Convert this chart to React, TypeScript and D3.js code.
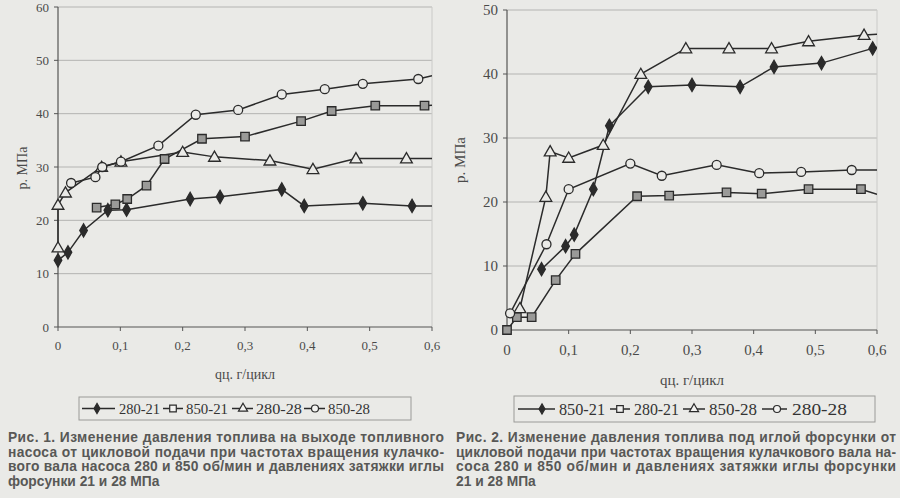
import { useEffect, useRef } from "react";
import * as d3 from "d3";

type Pt = [number, number];

// ---- data ----
const xTicks = [0, 0.1, 0.2, 0.3, 0.4, 0.5, 0.6];
const xTickLabels = ["0", "0,1", "0,2", "0,3", "0,4", "0,5", "0,6"];
const yTicks1 = [0, 10, 20, 30, 40, 50, 60];
const yTicks2 = [0, 10, 20, 30, 40, 50];

// Fig. 1: pressure at the pump outlet
const names1 = ["280-21", "850-21", "280-28", "850-28"];
const f1_280_21: Pt[] = [[0, 12.5], [0.016, 14], [0.041, 18.1], [0.08, 21.9], [0.11, 22], [0.212, 24], [0.26, 24.4], [0.359, 25.8], [0.395, 22.7], [0.489, 23.2], [0.568, 22.7]];
const f1_850_21: Pt[] = [[0.062, 22.4], [0.092, 23], [0.111, 24], [0.142, 26.5], [0.171, 31.5], [0.231, 35.3], [0.3, 35.7], [0.39, 38.6], [0.439, 40.5], [0.509, 41.5], [0.588, 41.5]];
const f1_280_28: Pt[] = [[0, 14.9], [0, 22.9], [0.012, 25.2], [0.07, 30], [0.101, 31], [0.2, 32.8], [0.251, 31.9], [0.34, 31.2], [0.409, 29.6], [0.478, 31.6], [0.559, 31.6]];
const f1_850_28: Pt[] = [[0.021, 27], [0.06, 28.1], [0.071, 30], [0.101, 31], [0.161, 34], [0.221, 39.8], [0.289, 40.7], [0.359, 43.6], [0.428, 44.6], [0.489, 45.6], [0.578, 46.5]];
// where each line leaves the plot at x = 0.6 (no marker there)
const edge1 = [22.7, 41.6, 31.6, 47.1];

// Fig. 2: pressure under the needle
const names2 = ["850-21", "280-21", "850-28", "280-28"];
const f2_850_21: Pt[] = [[0.056, 9.5], [0.095, 13.1], [0.109, 14.9], [0.14, 22], [0.166, 31.9], [0.229, 38], [0.3, 38.3], [0.378, 38], [0.433, 41.1], [0.51, 41.7], [0.593, 44]];
const f2_280_21: Pt[] = [[0, 0], [0.016, 2], [0.04, 2], [0.079, 7.8], [0.111, 11.9], [0.211, 20.9], [0.263, 21], [0.356, 21.5], [0.413, 21.3], [0.489, 22], [0.574, 22]];
const f2_850_28: Pt[] = [[0.021, 3.4], [0.063, 20.8], [0.07, 27.9], [0.1, 26.9], [0.156, 28.9], [0.217, 40], [0.29, 44], [0.36, 44], [0.429, 44], [0.489, 45.1], [0.579, 46.1]];
const f2_280_28: Pt[] = [[0.005, 2.6], [0.064, 13.4], [0.1, 22], [0.2, 26], [0.251, 24.1], [0.34, 25.8], [0.409, 24.5], [0.477, 24.7], [0.559, 25]];
const edge2 = [44.2, 21.2, 46.2, 25];

const caption1 = [
  "Рис. 1. Изменение давления топлива на выходе топливного",
  "насоса от цикловой подачи при частотах вращения кулачко-",
  "вого вала насоса 280 и 850 об/мин и давлениях затяжки иглы",
  "форсунки 21 и 28 МПа",
];
const caption2 = [
  "Рис. 2. Изменение давления топлива под иглой форсунки от",
  "цикловой подачи при частотах вращения кулачкового вала на-",
  "соса 280 и 850 об/мин и давлениях затяжки иглы форсунки",
  "21 и 28 МПа",
];

const markerKinds = ["diamond", "square", "triangle", "circle"];

const BG = "#eaeae7";
const INK = "#2b2b2b";
const SERIF = "'Liberation Serif', 'Times New Roman', 'DejaVu Serif', serif";
const SANS = "'Liberation Sans', Arial, 'DejaVu Sans', sans-serif";

function symbolFor(kind: string, big: boolean) {
  const k = big ? 1 : 0.6;
  if (kind === "diamond") return d3.symbol(d3.symbolDiamond, 50 * k)();
  if (kind === "square") return d3.symbol(d3.symbolSquare, 72 * k)();
  if (kind === "triangle") return d3.symbol(d3.symbolTriangle, 60 * k)();
  return d3.symbol(d3.symbolCircle, 64 * k)();
}

function markerFill(kind: string, legend: boolean) {
  if (kind === "diamond") return INK;
  if (kind === "square") return legend ? "#f2f2f0" : "#9a9a98";
  return legend ? "#f2f2f0" : BG;
}

interface LegendItem { x0: number; x1: number; m: number; t: number; w: number }

interface Panel {
  id: string;
  left: number; right: number; top: number; bottom: number;
  yMax: number; yTicks: number[];
  series: Pt[][]; edges: number[]; names: string[];
  tickSize: number; labelSize: number; tickDy: number;
  yLabel: [number, number]; xLabelY: number;
  legend: { x: number; y: number; w: number; h: number; items: LegendItem[]; fs: number };
  caption: string[]; capX: number; capW: number; capY: number;
}

function drawPanel(svg: d3.Selection<SVGSVGElement, unknown, null, undefined>, p: Panel) {
  const x = d3.scaleLinear().domain([0, 0.6]).range([p.left, p.right]);
  const y = d3.scaleLinear().domain([0, p.yMax]).range([p.bottom, p.top]);
  const g = svg.append("g");

  g.append("clipPath").attr("id", "clip-" + p.id)
    .append("rect").attr("x", p.left - 8).attr("y", p.top - 8)
    .attr("width", p.right - p.left + 8).attr("height", p.bottom - p.top + 16);

  // gridlines
  g.selectAll(".grid").data(p.yTicks.filter((t) => t > 0)).enter().append("line")
    .attr("x1", p.left).attr("x2", p.right)
    .attr("y1", (d) => y(d)).attr("y2", (d) => y(d))
    .attr("stroke", "#b4b4b2").attr("stroke-width", 1);
  g.append("line").attr("x1", p.right).attr("x2", p.right).attr("y1", p.top).attr("y2", p.bottom)
    .attr("stroke", "#cacac8");

  // axes
  g.append("line").attr("x1", p.left).attr("x2", p.left).attr("y1", p.top).attr("y2", p.bottom)
    .attr("stroke", "#555").attr("stroke-width", 1.2);
  g.append("line").attr("x1", p.left).attr("x2", p.right).attr("y1", p.bottom).attr("y2", p.bottom)
    .attr("stroke", "#555").attr("stroke-width", 1.2);
  g.selectAll(".yt").data(p.yTicks).enter().append("line")
    .attr("x1", p.left - 4).attr("x2", p.left).attr("y1", (d) => y(d)).attr("y2", (d) => y(d))
    .attr("stroke", "#555");
  g.selectAll(".xt").data(xTicks).enter().append("line")
    .attr("x1", (d) => x(d)).attr("x2", (d) => x(d)).attr("y1", p.bottom).attr("y2", p.bottom + 4)
    .attr("stroke", "#555");

  g.selectAll(".yl").data(p.yTicks).enter().append("text")
    .attr("x", p.left - 9).attr("y", (d) => y(d)).attr("dy", "0.35em")
    .attr("text-anchor", "end").style("font-family", SERIF).attr("font-size", p.tickSize)
    .attr("fill", "#4a4a4a").text((d) => String(d));
  g.selectAll(".xl").data(xTicks).enter().append("text")
    .attr("x", (d) => x(d)).attr("y", p.bottom + p.tickDy)
    .attr("text-anchor", "middle").style("font-family", SERIF).attr("font-size", p.tickSize)
    .attr("fill", "#4a4a4a").text((d, i) => xTickLabels[i]);

  g.append("text").attr("transform", `translate(${p.yLabel[0]},${p.yLabel[1]}) rotate(-90)`)
    .attr("text-anchor", "middle").attr("dy", "0.35em")
    .style("font-family", SERIF).attr("font-size", p.labelSize).attr("fill", "#4a4a4a").text("р. МПа");
  g.append("text").attr("x", (p.left + p.right) / 2).attr("y", p.xLabelY)
    .attr("text-anchor", "middle").style("font-family", SERIF).attr("font-size", p.labelSize)
    .attr("fill", "#4a4a4a").text("qц. г/цикл");

  // series
  const line = d3.line<Pt>().x((d) => x(d[0])).y((d) => y(d[1]));
  const plot = g.append("g").attr("clip-path", `url(#clip-${p.id})`);
  p.series.forEach((s, i) => {
    const pts: Pt[] = [...s, [0.6, p.edges[i]]];
    plot.append("path").attr("d", line(pts)).attr("fill", "none")
      .attr("stroke", INK).attr("stroke-width", 1.5);
  });
  p.series.forEach((s, i) => {
    const kind = markerKinds[i];
    plot.selectAll(".m" + i).data(s).enter().append("path")
      .attr("d", symbolFor(kind, true))
      .attr("transform", (d) => `translate(${x(d[0])},${y(d[1]) + (kind === "triangle" ? 1 : 0)})`)
      .attr("fill", markerFill(kind, false)).attr("stroke", INK).attr("stroke-width", 1.3);
  });

  // legend
  const L = p.legend;
  const cy = L.y + L.h / 2;
  g.append("rect").attr("x", L.x).attr("y", L.y).attr("width", L.w).attr("height", L.h)
    .attr("fill", "none").attr("stroke", "#9a9a98").attr("stroke-width", 1);
  const lg = g.selectAll(".lg").data(p.names).enter().append("g");
  lg.append("line").attr("x1", (d, i) => L.items[i].x0).attr("x2", (d, i) => L.items[i].x1)
    .attr("y1", cy).attr("y2", cy).attr("stroke", INK).attr("stroke-width", 1.5);
  lg.append("path").attr("d", (d, i) => symbolFor(markerKinds[i], false))
    .attr("transform", (d, i) => `translate(${L.items[i].m},${cy})`)
    .attr("fill", (d, i) => markerFill(markerKinds[i], true)).attr("stroke", INK).attr("stroke-width", 1.2);
  lg.append("text").attr("x", (d, i) => L.items[i].t).attr("y", cy).attr("dy", "0.35em")
    .style("font-family", SERIF).attr("font-size", L.fs).attr("fill", "#333")
    .attr("textLength", (d, i) => L.items[i].w).attr("lengthAdjust", "spacingAndGlyphs")
    .text((d) => d);

  // caption
  g.selectAll(".cap").data(p.caption).enter().append("text")
    .attr("x", p.capX).attr("y", (d, i) => p.capY + i * 14.6)
    .style("font-family", SANS).attr("font-weight", "bold").attr("font-size", 13.8)
    .attr("fill", "#585856")
    .each(function (d, i) {
      if (i < p.caption.length - 1) {
        d3.select(this).attr("textLength", p.capW).attr("lengthAdjust", "spacing");
      }
    })
    .text((d) => d);
}

export default function App() {
  const ref = useRef<SVGSVGElement | null>(null);

  useEffect(() => {
    if (!ref.current) return;
    const svg = d3.select(ref.current);
    svg.selectAll("*").remove();
    svg.append("rect").attr("width", 900).attr("height", 498).attr("fill", BG);

    drawPanel(svg, {
      id: "a", left: 58, right: 432, top: 7, bottom: 327,
      yMax: 60, yTicks: yTicks1,
      series: [f1_280_21, f1_850_21, f1_280_28, f1_850_28], edges: edge1, names: names1,
      tickSize: 13, labelSize: 14, tickDy: 23, yLabel: [22, 168], xLabelY: 379,
      legend: {
        x: 79, y: 397, w: 332, h: 23, fs: 14.5,
        items: [
          { x0: 82, x1: 115, m: 97, t: 119, w: 41 },
          { x0: 163, x1: 183, m: 173, t: 186, w: 42 },
          { x0: 232, x1: 253, m: 243, t: 256, w: 46 },
          { x0: 304, x1: 325, m: 315, t: 328, w: 42 },
        ],
      },
      caption: caption1, capX: 8, capW: 436, capY: 442,
    });
    drawPanel(svg, {
      id: "b", left: 507, right: 877, top: 10, bottom: 330,
      yMax: 50, yTicks: yTicks2,
      series: [f2_850_21, f2_280_21, f2_850_28, f2_280_28], edges: edge2, names: names2,
      tickSize: 15, labelSize: 15, tickDy: 25, yLabel: [460, 160], xLabelY: 385,
      legend: {
        x: 514, y: 396, w: 361, h: 26, fs: 16,
        items: [
          { x0: 518, x1: 555, m: 542, t: 559, w: 46 },
          { x0: 610, x1: 630, m: 620, t: 634, w: 45 },
          { x0: 683, x1: 705, m: 694, t: 709, w: 48 },
          { x0: 762, x1: 787, m: 777, t: 792, w: 55 },
        ],
      },
      caption: caption2, capX: 456, capW: 440, capY: 442,
    });
  }, []);

  return (
    <div style={{ position: "absolute", left: 0, top: 0 }}>
      <svg ref={ref} width={900} height={498} style={{ display: "block" }} />
    </div>
  );
}
